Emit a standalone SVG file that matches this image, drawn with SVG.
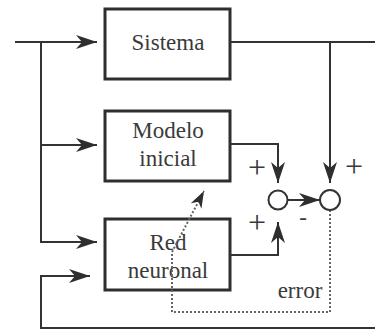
<svg xmlns="http://www.w3.org/2000/svg" width="375" height="330" viewBox="0 0 375 330">
  <style>
    .box { fill: none; stroke: #2e2e2e; stroke-width: 3; }
    .wire { fill: none; stroke: #333333; stroke-width: 2; }
    .dots { fill: none; stroke: #666666; stroke-width: 2; stroke-dasharray: 2 2; }
    .sum { fill: #ffffff; stroke: #333333; stroke-width: 2; }
    text { font-family: 'Liberation Serif', 'DejaVu Serif', serif; fill: #3a3a3a; text-anchor: middle; }
    .lbl { font-size: 23px; }
    .sign { font-size: 32px; }
  </style>
  <defs>
    <marker id="arrow" markerUnits="userSpaceOnUse" markerWidth="24" markerHeight="18" viewBox="-22 -9 24 18" refX="0" refY="0" orient="auto">
      <path d="M0,0 L-21,-7 L-15,0 L-21,7 Z" fill="#2e2e2e"/>
    </marker>
    <marker id="arrowDot" markerUnits="userSpaceOnUse" markerWidth="20" markerHeight="16" viewBox="-18 -8 20 16" refX="0" refY="0" orient="auto">
      <path d="M0,0 L-17,-6 L-12,0 L-17,6 Z" fill="#2e2e2e"/>
    </marker>
  </defs>
  <rect width="375" height="330" fill="#ffffff"/>

  <g id="sistema">
    <rect class="box" x="105" y="9" width="125" height="70"/>
    <text class="lbl" x="168" y="50" font-family="Liberation Serif, serif">Sistema</text>
  </g>

  <g id="modelo-inicial">
    <rect class="box" x="105" y="111" width="125" height="70"/>
    <text class="lbl" x="168" y="138" font-family="Liberation Serif, serif">Modelo</text>
    <text class="lbl" x="168" y="166" font-family="Liberation Serif, serif">inicial</text>
  </g>

  <g id="red-neuronal">
    <rect class="box" x="105" y="219" width="125" height="71"/>
    <text class="lbl" x="168" y="250" font-family="Liberation Serif, serif">Red</text>
    <text class="lbl" x="168" y="278" font-family="Liberation Serif, serif">neuronal</text>
  </g>

  <g id="connectors">
    <!-- input feed and branches -->
    <path class="wire" d="M15,42 H97" marker-end="url(#arrow)"/>
    <path class="wire" d="M41,42 V242 H97" marker-end="url(#arrow)"/>
    <path class="wire" d="M41,145 H97" marker-end="url(#arrow)"/>
    <!-- feedback into the network -->
    <path class="wire" d="M375,328 H41 V276 H90" marker-end="url(#arrow)"/>
    <!-- plant output -->
    <path class="wire" d="M230,42 H375"/>
    <path class="wire" d="M330,42 V183" marker-end="url(#arrow)"/>
    <!-- model output -->
    <path class="wire" d="M230,144 H278 V183" marker-end="url(#arrow)"/>
    <!-- network output -->
    <path class="wire" d="M230,255 H278 V222" marker-end="url(#arrow)"/>
    <!-- between summing junctions -->
    <path class="wire" d="M288,200 H320" marker-end="url(#arrow)"/>
    <!-- error path, back to the model -->
    <path class="dots" d="M330,210 V312 H172 V252 L204,191" marker-end="url(#arrowDot)"/>
  </g>

  <g id="sum-left">
    <circle class="sum" cx="278" cy="200" r="9.5"/>
    <text class="sign" x="257" y="178" font-family="Liberation Serif, serif">+</text>
    <text class="sign" x="257" y="233" font-family="Liberation Serif, serif">+</text>
  </g>

  <g id="sum-right">
    <circle class="sum" cx="330" cy="200" r="10"/>
    <text class="sign" x="354" y="177" font-family="Liberation Serif, serif">+</text>
    <text class="lbl" x="303" y="225" font-family="Liberation Serif, serif">-</text>
  </g>

  <g id="error-label">
    <text class="lbl" x="300" y="298" font-family="Liberation Serif, serif">error</text>
  </g>
</svg>
